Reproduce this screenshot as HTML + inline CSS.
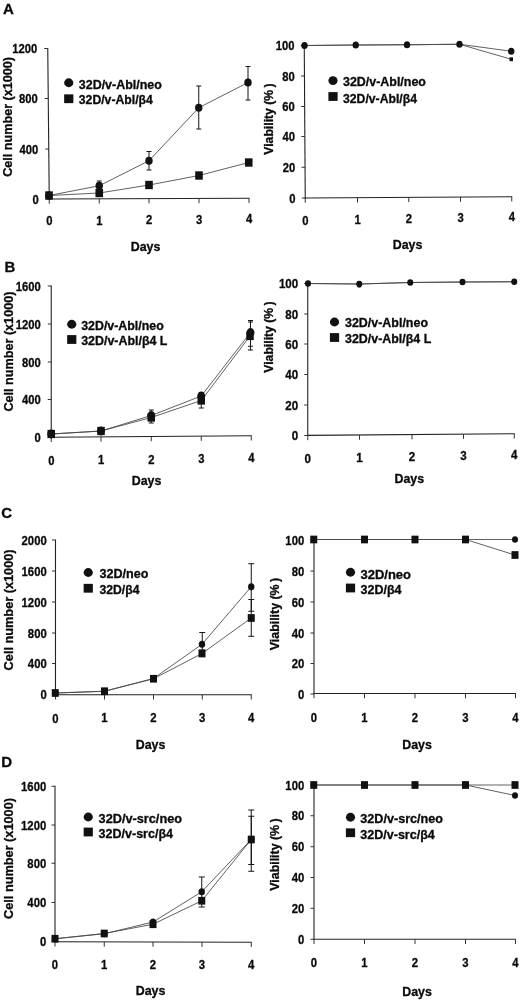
<!DOCTYPE html>
<html><head><meta charset="utf-8"><title>Figure</title>
<style>html,body{margin:0;padding:0;background:#fff}svg{display:block;filter:blur(0.35px)}text{font-family:"Liberation Sans",sans-serif;font-weight:bold;fill:#0a0a0a;stroke:#0a0a0a;stroke-width:0.3px}</style>
</head><body>
<svg width="520" height="1000" viewBox="0 0 520 1000">
<rect width="520" height="1000" fill="#fff"/>
<g fill="#111">
<line x1="47.75" y1="48.0" x2="49.25" y2="199.5" stroke="#222" stroke-width="1.1"/>
<line x1="48.75" y1="199" x2="249.5" y2="198.25" stroke="#222" stroke-width="1.1"/>
<line x1="45.75" y1="199" x2="49.25" y2="199" stroke="#333" stroke-width="1"/>
<text x="38.75" y="203.5" font-size="13" text-anchor="end" textLength="6.25" lengthAdjust="spacingAndGlyphs">0</text>
<line x1="45.25" y1="149" x2="48.75" y2="149" stroke="#333" stroke-width="1"/>
<text x="38.25" y="153.5" font-size="13" text-anchor="end" textLength="18.75" lengthAdjust="spacingAndGlyphs">400</text>
<line x1="44.75" y1="98.5" x2="48.25" y2="98.5" stroke="#333" stroke-width="1"/>
<text x="37.75" y="103.0" font-size="13" text-anchor="end" textLength="18.75" lengthAdjust="spacingAndGlyphs">800</text>
<line x1="44.25" y1="48.5" x2="47.75" y2="48.5" stroke="#333" stroke-width="1"/>
<text x="37.25" y="53.0" font-size="13" text-anchor="end" textLength="25.0" lengthAdjust="spacingAndGlyphs">1200</text>
<line x1="49.25" y1="199.0" x2="49.25" y2="203.75" stroke="#333" stroke-width="1"/>
<text x="49.25" y="225.4" font-size="13" text-anchor="middle" textLength="6.25" lengthAdjust="spacingAndGlyphs">0</text>
<line x1="99.25" y1="198.81226533166458" x2="99.25" y2="203.56226533166458" stroke="#333" stroke-width="1"/>
<text x="99.25" y="224.9" font-size="13" text-anchor="middle" textLength="6.25" lengthAdjust="spacingAndGlyphs">1</text>
<line x1="149" y1="198.62546933667085" x2="149" y2="203.37546933667085" stroke="#333" stroke-width="1"/>
<text x="149" y="224.4" font-size="13" text-anchor="middle" textLength="6.25" lengthAdjust="spacingAndGlyphs">2</text>
<line x1="199" y1="198.43773466833542" x2="199" y2="203.18773466833542" stroke="#333" stroke-width="1"/>
<text x="199" y="223.9" font-size="13" text-anchor="middle" textLength="6.25" lengthAdjust="spacingAndGlyphs">3</text>
<line x1="249" y1="198.25" x2="249" y2="203.0" stroke="#333" stroke-width="1"/>
<text x="249" y="223.4" font-size="13" text-anchor="middle" textLength="6.25" lengthAdjust="spacingAndGlyphs">4</text>
<text x="145.5" y="251" font-size="12.4" text-anchor="middle">Days</text>
<text x="12.4" y="116.9" font-size="12" text-anchor="middle" textLength="119.75" lengthAdjust="spacingAndGlyphs" transform="rotate(-90 12.4 116.9)">Cell number (x1000)</text>
<polyline fill="none" stroke="#444" stroke-width="0.85" points="49,195.5 99.25,185.75 149,160.75 198.75,107.75 248,82.5"/>
<polyline fill="none" stroke="#444" stroke-width="0.85" points="49,195.5 99.25,193 149,185 199,175.5 248.75,162.5"/>
<line x1="149" y1="151.5" x2="149" y2="170" stroke="#151515" stroke-width="1"/>
<line x1="146.5" y1="151.5" x2="151.5" y2="151.5" stroke="#151515" stroke-width="1"/>
<line x1="146.5" y1="170" x2="151.5" y2="170" stroke="#151515" stroke-width="1"/>
<line x1="198.75" y1="86" x2="198.75" y2="129" stroke="#151515" stroke-width="1"/>
<line x1="196.25" y1="86" x2="201.25" y2="86" stroke="#151515" stroke-width="1"/>
<line x1="196.25" y1="129" x2="201.25" y2="129" stroke="#151515" stroke-width="1"/>
<line x1="248" y1="66.5" x2="248" y2="100" stroke="#151515" stroke-width="1"/>
<line x1="245.5" y1="66.5" x2="250.5" y2="66.5" stroke="#151515" stroke-width="1"/>
<line x1="245.5" y1="100" x2="250.5" y2="100" stroke="#151515" stroke-width="1"/>
<line x1="99.25" y1="181" x2="99.25" y2="190" stroke="#151515" stroke-width="1"/>
<line x1="96.75" y1="181" x2="101.75" y2="181" stroke="#151515" stroke-width="1"/>
<line x1="96.75" y1="190" x2="101.75" y2="190" stroke="#151515" stroke-width="1"/>
<ellipse cx="49" cy="195.5" rx="3.7" ry="4.07"/>
<ellipse cx="99.25" cy="185.75" rx="3.7" ry="4.07"/>
<ellipse cx="149" cy="160.75" rx="3.7" ry="4.07"/>
<ellipse cx="198.75" cy="107.75" rx="3.7" ry="4.07"/>
<ellipse cx="248" cy="82.5" rx="3.7" ry="4.07"/>
<rect x="45.2" y="191.32" width="7.6" height="8.36"/>
<rect x="95.45" y="188.82" width="7.6" height="8.36"/>
<rect x="145.2" y="180.82" width="7.6" height="8.36"/>
<rect x="195.2" y="171.32" width="7.6" height="8.36"/>
<rect x="244.95" y="158.32" width="7.6" height="8.36"/>
<ellipse cx="68.75" cy="82.75" rx="4.6" ry="4.4"/>
<text x="78.8" y="88.75" font-size="12" text-anchor="start" textLength="83" lengthAdjust="spacingAndGlyphs">32D/v-Abl/neo</text>
<rect x="64.15" y="94.35" width="9.2" height="8.8"/>
<text x="78.8" y="104.25" font-size="12" text-anchor="start" textLength="74" lengthAdjust="spacingAndGlyphs">32D/v-Abl/β4</text>
<text x="3" y="13.8" font-size="15" text-anchor="start">A</text>
<line x1="304.25" y1="45.0" x2="305.25" y2="198.5" stroke="#222" stroke-width="1.1"/>
<line x1="304.75" y1="198" x2="512.25" y2="196.75" stroke="#222" stroke-width="1.1"/>
<line x1="301.75" y1="198" x2="305.25" y2="198" stroke="#333" stroke-width="1"/>
<text x="295.45" y="202.5" font-size="13" text-anchor="end" textLength="6.25" lengthAdjust="spacingAndGlyphs">0</text>
<line x1="301.55" y1="167.25" x2="305.05" y2="167.25" stroke="#333" stroke-width="1"/>
<text x="295.25" y="171.75" font-size="13" text-anchor="end" textLength="12.5" lengthAdjust="spacingAndGlyphs">20</text>
<line x1="301.35" y1="136.5" x2="304.85" y2="136.5" stroke="#333" stroke-width="1"/>
<text x="295.05" y="141.0" font-size="13" text-anchor="end" textLength="12.5" lengthAdjust="spacingAndGlyphs">40</text>
<line x1="301.15" y1="106.5" x2="304.65" y2="106.5" stroke="#333" stroke-width="1"/>
<text x="294.84999999999997" y="111.0" font-size="13" text-anchor="end" textLength="12.5" lengthAdjust="spacingAndGlyphs">60</text>
<line x1="300.95" y1="76" x2="304.45" y2="76" stroke="#333" stroke-width="1"/>
<text x="294.65" y="80.5" font-size="13" text-anchor="end" textLength="12.5" lengthAdjust="spacingAndGlyphs">80</text>
<line x1="300.75" y1="45.5" x2="304.25" y2="45.5" stroke="#333" stroke-width="1"/>
<text x="294.45" y="50.0" font-size="13" text-anchor="end" textLength="18.75" lengthAdjust="spacingAndGlyphs">100</text>
<line x1="305.25" y1="198.0" x2="305.25" y2="202.75" stroke="#333" stroke-width="1"/>
<text x="305.25" y="224.5" font-size="13" text-anchor="middle" textLength="6.25" lengthAdjust="spacingAndGlyphs">0</text>
<line x1="357.5" y1="197.6837167070218" x2="357.5" y2="202.4337167070218" stroke="#333" stroke-width="1"/>
<text x="357.5" y="223.61" font-size="13" text-anchor="middle" textLength="6.25" lengthAdjust="spacingAndGlyphs">1</text>
<line x1="408.75" y1="197.3734866828087" x2="408.75" y2="202.1234866828087" stroke="#333" stroke-width="1"/>
<text x="408.75" y="222.75" font-size="13" text-anchor="middle" textLength="6.25" lengthAdjust="spacingAndGlyphs">2</text>
<line x1="460.5" y1="197.06023002421307" x2="460.5" y2="201.81023002421307" stroke="#333" stroke-width="1"/>
<text x="460.5" y="221.87" font-size="13" text-anchor="middle" textLength="6.25" lengthAdjust="spacingAndGlyphs">3</text>
<line x1="511.75" y1="196.75" x2="511.75" y2="201.5" stroke="#333" stroke-width="1"/>
<text x="511.75" y="221.0" font-size="13" text-anchor="middle" textLength="6.25" lengthAdjust="spacingAndGlyphs">4</text>
<text x="407.5" y="249" font-size="12.4" text-anchor="middle">Days</text>
<text x="272.6" y="119" font-size="12" text-anchor="middle" textLength="71.4" lengthAdjust="spacingAndGlyphs" transform="rotate(-90 272.6 119)">Viability (%&#8201;)</text>
<polyline fill="none" stroke="#444" stroke-width="0.85" points="304.5,45.5 355.75,45 407,44.75 459.5,44.25 511.25,59.25"/>
<polyline fill="none" stroke="#444" stroke-width="0.85" points="304.5,45.5 355.75,45 407,44.75 459.5,44.25 511.25,51.25"/>
<rect x="302.75" y="43.58" width="3.5" height="3.85"/>
<rect x="354.0" y="43.08" width="3.5" height="3.85"/>
<rect x="405.25" y="42.83" width="3.5" height="3.85"/>
<rect x="457.75" y="42.33" width="3.5" height="3.85"/>
<rect x="509.5" y="57.33" width="3.5" height="3.85"/>
<ellipse cx="304.5" cy="45.5" rx="3.2" ry="3.52"/>
<ellipse cx="355.75" cy="45" rx="3.2" ry="3.52"/>
<ellipse cx="407" cy="44.75" rx="3.2" ry="3.52"/>
<ellipse cx="459.5" cy="44.25" rx="3.2" ry="3.52"/>
<ellipse cx="511.25" cy="51.25" rx="3.2" ry="3.52"/>
<ellipse cx="333" cy="80.6" rx="4.6" ry="4.4"/>
<text x="343" y="86.2" font-size="12" text-anchor="start" textLength="82.9" lengthAdjust="spacingAndGlyphs">32D/v-Abl/neo</text>
<rect x="328.4" y="92.1" width="9.2" height="8.8"/>
<text x="343" y="102.5" font-size="12" text-anchor="start" textLength="74" lengthAdjust="spacingAndGlyphs">32D/v-Abl/β4</text>
<line x1="51.25" y1="285.5" x2="51.25" y2="437.75" stroke="#222" stroke-width="1.1"/>
<line x1="50.75" y1="437.25" x2="251.75" y2="435.75" stroke="#222" stroke-width="1.1"/>
<line x1="47.75" y1="437.5" x2="51.25" y2="437.5" stroke="#333" stroke-width="1"/>
<text x="40.75" y="442.0" font-size="13" text-anchor="end" textLength="6.25" lengthAdjust="spacingAndGlyphs">0</text>
<line x1="47.75" y1="399.5" x2="51.25" y2="399.5" stroke="#333" stroke-width="1"/>
<text x="40.75" y="404.0" font-size="13" text-anchor="end" textLength="18.75" lengthAdjust="spacingAndGlyphs">400</text>
<line x1="47.75" y1="362" x2="51.25" y2="362" stroke="#333" stroke-width="1"/>
<text x="40.75" y="366.5" font-size="13" text-anchor="end" textLength="18.75" lengthAdjust="spacingAndGlyphs">800</text>
<line x1="47.75" y1="324" x2="51.25" y2="324" stroke="#333" stroke-width="1"/>
<text x="40.75" y="328.5" font-size="13" text-anchor="end" textLength="25.0" lengthAdjust="spacingAndGlyphs">1200</text>
<line x1="47.75" y1="286" x2="51.25" y2="286" stroke="#333" stroke-width="1"/>
<text x="40.75" y="290.5" font-size="13" text-anchor="end" textLength="25.0" lengthAdjust="spacingAndGlyphs">1600</text>
<line x1="51.25" y1="437.25" x2="51.25" y2="442.0" stroke="#333" stroke-width="1"/>
<text x="51.25" y="464.8" font-size="13" text-anchor="middle" textLength="6.25" lengthAdjust="spacingAndGlyphs">0</text>
<line x1="101" y1="436.876875" x2="101" y2="441.626875" stroke="#333" stroke-width="1"/>
<text x="101" y="464.18" font-size="13" text-anchor="middle" textLength="6.25" lengthAdjust="spacingAndGlyphs">1</text>
<line x1="151.25" y1="436.5" x2="151.25" y2="441.25" stroke="#333" stroke-width="1"/>
<text x="151.25" y="463.55" font-size="13" text-anchor="middle" textLength="6.25" lengthAdjust="spacingAndGlyphs">2</text>
<line x1="201.25" y1="436.125" x2="201.25" y2="440.875" stroke="#333" stroke-width="1"/>
<text x="201.25" y="462.93" font-size="13" text-anchor="middle" textLength="6.25" lengthAdjust="spacingAndGlyphs">3</text>
<line x1="251.25" y1="435.75" x2="251.25" y2="440.5" stroke="#333" stroke-width="1"/>
<text x="251.25" y="462.3" font-size="13" text-anchor="middle" textLength="6.25" lengthAdjust="spacingAndGlyphs">4</text>
<text x="146.5" y="485" font-size="12.4" text-anchor="middle">Days</text>
<text x="13.3" y="351.6" font-size="12" text-anchor="middle" textLength="120" lengthAdjust="spacingAndGlyphs" transform="rotate(-90 13.3 351.6)">Cell number (x1000)</text>
<polyline fill="none" stroke="#444" stroke-width="0.85" points="51.25,434 101,431 151.25,415.5 201.25,396 250.5,332.5"/>
<polyline fill="none" stroke="#444" stroke-width="0.85" points="51.25,434 101,431 151.25,417.5 201.25,400.5 250,336"/>
<line x1="151.25" y1="410" x2="151.25" y2="423" stroke="#151515" stroke-width="1"/>
<line x1="148.75" y1="410" x2="153.75" y2="410" stroke="#151515" stroke-width="1"/>
<line x1="148.75" y1="423" x2="153.75" y2="423" stroke="#151515" stroke-width="1"/>
<line x1="201.25" y1="392.5" x2="201.25" y2="408" stroke="#151515" stroke-width="1"/>
<line x1="198.75" y1="392.5" x2="203.75" y2="392.5" stroke="#151515" stroke-width="1"/>
<line x1="198.75" y1="408" x2="203.75" y2="408" stroke="#151515" stroke-width="1"/>
<line x1="250.5" y1="320.5" x2="250.5" y2="350" stroke="#151515" stroke-width="1"/>
<line x1="248.0" y1="320.5" x2="253.0" y2="320.5" stroke="#151515" stroke-width="1"/>
<line x1="248.0" y1="350" x2="253.0" y2="350" stroke="#151515" stroke-width="1"/>
<line x1="250.5" y1="322" x2="250.5" y2="346.25" stroke="#151515" stroke-width="1"/>
<line x1="248.0" y1="322" x2="253.0" y2="322" stroke="#151515" stroke-width="1"/>
<line x1="248.0" y1="346.25" x2="253.0" y2="346.25" stroke="#151515" stroke-width="1"/>
<ellipse cx="51.25" cy="434" rx="4" ry="4.4"/>
<ellipse cx="101" cy="431" rx="4" ry="4.4"/>
<ellipse cx="151.25" cy="415.5" rx="4" ry="4.4"/>
<ellipse cx="201.25" cy="396" rx="4" ry="4.4"/>
<ellipse cx="250.5" cy="332.5" rx="4" ry="4.4"/>
<rect x="47.5" y="429.88" width="7.5" height="8.25"/>
<rect x="97.25" y="426.88" width="7.5" height="8.25"/>
<rect x="147.5" y="413.38" width="7.5" height="8.25"/>
<rect x="197.5" y="396.38" width="7.5" height="8.25"/>
<rect x="246.25" y="331.88" width="7.5" height="8.25"/>
<ellipse cx="71.75" cy="324.25" rx="4.6" ry="4.4"/>
<text x="81.2" y="329.5" font-size="12" text-anchor="start" textLength="82.5" lengthAdjust="spacingAndGlyphs">32D/v-Abl/neo</text>
<rect x="67.15" y="335.1" width="9.2" height="8.8"/>
<text x="81.2" y="344.5" font-size="12" text-anchor="start" textLength="86.25" lengthAdjust="spacingAndGlyphs">32D/v-Abl/β4 L</text>
<text x="4.5" y="272" font-size="15" text-anchor="start">B</text>
<line x1="307.75" y1="283.0" x2="307.75" y2="435.9" stroke="#222" stroke-width="1.1"/>
<line x1="307.25" y1="435.4" x2="514.75" y2="433.75" stroke="#222" stroke-width="1.1"/>
<line x1="304.25" y1="435.5" x2="307.75" y2="435.5" stroke="#333" stroke-width="1"/>
<text x="298.25" y="440.0" font-size="13" text-anchor="end" textLength="6.45" lengthAdjust="spacingAndGlyphs">0</text>
<line x1="304.25" y1="405" x2="307.75" y2="405" stroke="#333" stroke-width="1"/>
<text x="298.25" y="409.5" font-size="13" text-anchor="end" textLength="12.9" lengthAdjust="spacingAndGlyphs">20</text>
<line x1="304.25" y1="374.5" x2="307.75" y2="374.5" stroke="#333" stroke-width="1"/>
<text x="298.25" y="379.0" font-size="13" text-anchor="end" textLength="12.9" lengthAdjust="spacingAndGlyphs">40</text>
<line x1="304.25" y1="344" x2="307.75" y2="344" stroke="#333" stroke-width="1"/>
<text x="298.25" y="348.5" font-size="13" text-anchor="end" textLength="12.9" lengthAdjust="spacingAndGlyphs">60</text>
<line x1="304.25" y1="314" x2="307.75" y2="314" stroke="#333" stroke-width="1"/>
<text x="298.25" y="318.5" font-size="13" text-anchor="end" textLength="12.9" lengthAdjust="spacingAndGlyphs">80</text>
<line x1="304.25" y1="283.5" x2="307.75" y2="283.5" stroke="#333" stroke-width="1"/>
<text x="298.25" y="288.0" font-size="13" text-anchor="end" textLength="19.35" lengthAdjust="spacingAndGlyphs">100</text>
<line x1="307.75" y1="435.4" x2="307.75" y2="440.15" stroke="#333" stroke-width="1"/>
<text x="307.75" y="462.6" font-size="13" text-anchor="middle" textLength="6.45" lengthAdjust="spacingAndGlyphs">0</text>
<line x1="359.5" y1="434.9865012106537" x2="359.5" y2="439.7365012106537" stroke="#333" stroke-width="1"/>
<text x="359.5" y="461.75" font-size="13" text-anchor="middle" textLength="6.45" lengthAdjust="spacingAndGlyphs">1</text>
<line x1="412" y1="434.56700968523" x2="412" y2="439.31700968523" stroke="#333" stroke-width="1"/>
<text x="412" y="460.88" font-size="13" text-anchor="middle" textLength="6.45" lengthAdjust="spacingAndGlyphs">2</text>
<line x1="463.5" y1="434.15550847457627" x2="463.5" y2="438.90550847457627" stroke="#333" stroke-width="1"/>
<text x="463.5" y="460.04" font-size="13" text-anchor="middle" textLength="6.45" lengthAdjust="spacingAndGlyphs">3</text>
<line x1="514.25" y1="433.75" x2="514.25" y2="438.5" stroke="#333" stroke-width="1"/>
<text x="514.25" y="459.2" font-size="13" text-anchor="middle" textLength="6.45" lengthAdjust="spacingAndGlyphs">4</text>
<text x="409.25" y="482.75" font-size="12.4" text-anchor="middle">Days</text>
<text x="273" y="337" font-size="12" text-anchor="middle" textLength="71.4" lengthAdjust="spacingAndGlyphs" transform="rotate(-90 273 337)">Viability (%&#8201;)</text>
<polyline fill="none" stroke="#444" stroke-width="0.85" points="308,283.5 359.25,284 410.25,282.5 462.5,282 514.25,281.75"/>
<polyline fill="none" stroke="#444" stroke-width="0.85" points="308,283.5 359.25,284 410.25,282.5 462.5,282 514.25,281.75"/>
<line x1="359.25" y1="281" x2="359.25" y2="287.5" stroke="#111" stroke-width="3"/>
<rect x="306.25" y="281.57" width="3.5" height="3.85"/>
<rect x="357.5" y="282.07" width="3.5" height="3.85"/>
<rect x="408.5" y="280.57" width="3.5" height="3.85"/>
<rect x="460.75" y="280.07" width="3.5" height="3.85"/>
<rect x="512.5" y="279.82" width="3.5" height="3.85"/>
<ellipse cx="308" cy="283.5" rx="3" ry="3.3"/>
<ellipse cx="359.25" cy="284" rx="3" ry="3.3"/>
<ellipse cx="410.25" cy="282.5" rx="3" ry="3.3"/>
<ellipse cx="462.5" cy="282" rx="3" ry="3.3"/>
<ellipse cx="514.25" cy="281.75" rx="3" ry="3.3"/>
<ellipse cx="334.5" cy="322" rx="4.6" ry="4.4"/>
<text x="345" y="327.25" font-size="12" text-anchor="start" textLength="83" lengthAdjust="spacingAndGlyphs">32D/v-Abl/neo</text>
<rect x="329.9" y="333.1" width="9.2" height="8.8"/>
<text x="345" y="342.5" font-size="12" text-anchor="start" textLength="86.25" lengthAdjust="spacingAndGlyphs">32D/v-Abl/β4 L</text>
<line x1="55.5" y1="539.5" x2="55.5" y2="695.25" stroke="#222" stroke-width="1.1"/>
<line x1="55.0" y1="694.75" x2="251.75" y2="694.75" stroke="#222" stroke-width="1.1"/>
<line x1="52.0" y1="694.5" x2="55.5" y2="694.5" stroke="#333" stroke-width="1"/>
<text x="46.75" y="699.0" font-size="13.4" text-anchor="end" textLength="6.3" lengthAdjust="spacingAndGlyphs">0</text>
<line x1="52.0" y1="663.5" x2="55.5" y2="663.5" stroke="#333" stroke-width="1"/>
<text x="46.75" y="668.0" font-size="13.4" text-anchor="end" textLength="18.9" lengthAdjust="spacingAndGlyphs">400</text>
<line x1="52.0" y1="633" x2="55.5" y2="633" stroke="#333" stroke-width="1"/>
<text x="46.75" y="637.5" font-size="13.4" text-anchor="end" textLength="18.9" lengthAdjust="spacingAndGlyphs">800</text>
<line x1="52.0" y1="602" x2="55.5" y2="602" stroke="#333" stroke-width="1"/>
<text x="46.75" y="606.5" font-size="13.4" text-anchor="end" textLength="25.2" lengthAdjust="spacingAndGlyphs">1200</text>
<line x1="52.0" y1="571" x2="55.5" y2="571" stroke="#333" stroke-width="1"/>
<text x="46.75" y="575.5" font-size="13.4" text-anchor="end" textLength="25.2" lengthAdjust="spacingAndGlyphs">1600</text>
<line x1="52.0" y1="540" x2="55.5" y2="540" stroke="#333" stroke-width="1"/>
<text x="46.75" y="544.5" font-size="13.4" text-anchor="end" textLength="25.2" lengthAdjust="spacingAndGlyphs">2000</text>
<line x1="55.5" y1="694.75" x2="55.5" y2="699.5" stroke="#333" stroke-width="1"/>
<text x="55.5" y="722.5" font-size="13.4" text-anchor="middle" textLength="6.3" lengthAdjust="spacingAndGlyphs">0</text>
<line x1="104.5" y1="694.75" x2="104.5" y2="699.5" stroke="#333" stroke-width="1"/>
<text x="104.5" y="722.37" font-size="13.4" text-anchor="middle" textLength="6.3" lengthAdjust="spacingAndGlyphs">1</text>
<line x1="153.5" y1="694.75" x2="153.5" y2="699.5" stroke="#333" stroke-width="1"/>
<text x="153.5" y="722.25" font-size="13.4" text-anchor="middle" textLength="6.3" lengthAdjust="spacingAndGlyphs">2</text>
<line x1="202.25" y1="694.75" x2="202.25" y2="699.5" stroke="#333" stroke-width="1"/>
<text x="202.25" y="722.13" font-size="13.4" text-anchor="middle" textLength="6.3" lengthAdjust="spacingAndGlyphs">3</text>
<line x1="251.25" y1="694.75" x2="251.25" y2="699.5" stroke="#333" stroke-width="1"/>
<text x="251.25" y="722.0" font-size="13.4" text-anchor="middle" textLength="6.3" lengthAdjust="spacingAndGlyphs">4</text>
<text x="150.5" y="749.25" font-size="12.4" text-anchor="middle">Days</text>
<text x="13" y="609.9" font-size="12" text-anchor="middle" textLength="121" lengthAdjust="spacingAndGlyphs" transform="rotate(-90 13 609.9)">Cell number (x1000)</text>
<polyline fill="none" stroke="#444" stroke-width="0.85" points="55.25,693 104.5,691.25 153.5,678.5 202,644.25 251.25,586.75"/>
<polyline fill="none" stroke="#444" stroke-width="0.85" points="55.25,693 104.5,691.25 153.5,678.75 202,653.5 251.25,618"/>
<line x1="202.25" y1="632.5" x2="202.25" y2="650" stroke="#151515" stroke-width="1"/>
<line x1="199.25" y1="632.5" x2="205.25" y2="632.5" stroke="#151515" stroke-width="1"/>
<line x1="199.25" y1="650" x2="205.25" y2="650" stroke="#151515" stroke-width="1"/>
<line x1="251.25" y1="563.75" x2="251.25" y2="611.25" stroke="#151515" stroke-width="1"/>
<line x1="248.25" y1="563.75" x2="254.25" y2="563.75" stroke="#151515" stroke-width="1"/>
<line x1="248.25" y1="611.25" x2="254.25" y2="611.25" stroke="#151515" stroke-width="1"/>
<line x1="251.25" y1="599.5" x2="251.25" y2="636.25" stroke="#151515" stroke-width="1"/>
<line x1="248.25" y1="599.5" x2="254.25" y2="599.5" stroke="#151515" stroke-width="1"/>
<line x1="248.25" y1="636.25" x2="254.25" y2="636.25" stroke="#151515" stroke-width="1"/>
<ellipse cx="55.25" cy="693" rx="3.2" ry="3.52"/>
<ellipse cx="104.5" cy="691.25" rx="3.2" ry="3.52"/>
<ellipse cx="153.5" cy="678.5" rx="3.2" ry="3.52"/>
<ellipse cx="202" cy="644.25" rx="3.2" ry="3.52"/>
<ellipse cx="251.25" cy="586.75" rx="3.2" ry="3.52"/>
<rect x="51.75" y="689.15" width="7" height="7.7"/>
<rect x="101.0" y="687.4" width="7" height="7.7"/>
<rect x="150.0" y="674.9" width="7" height="7.7"/>
<rect x="198.5" y="649.65" width="7" height="7.7"/>
<rect x="247.75" y="614.15" width="7" height="7.7"/>
<ellipse cx="88.25" cy="572.5" rx="4.6" ry="4.4"/>
<text x="99.5" y="578.4" font-size="12" text-anchor="start" textLength="49" lengthAdjust="spacingAndGlyphs">32D/neo</text>
<rect x="83.65" y="583.85" width="9.2" height="8.8"/>
<text x="99.5" y="593.75" font-size="12" text-anchor="start" textLength="40" lengthAdjust="spacingAndGlyphs">32D/β4</text>
<text x="1.2" y="518" font-size="15" text-anchor="start">C</text>
<line x1="314" y1="539.5" x2="314" y2="694.0" stroke="#222" stroke-width="1.1"/>
<line x1="313.5" y1="693.5" x2="516.0" y2="693.5" stroke="#222" stroke-width="1.1"/>
<line x1="310.5" y1="694" x2="314.0" y2="694" stroke="#333" stroke-width="1"/>
<text x="304.25" y="698.5" font-size="13.4" text-anchor="end" textLength="6.3" lengthAdjust="spacingAndGlyphs">0</text>
<line x1="310.5" y1="663.5" x2="314.0" y2="663.5" stroke="#333" stroke-width="1"/>
<text x="304.25" y="668.0" font-size="13.4" text-anchor="end" textLength="12.6" lengthAdjust="spacingAndGlyphs">20</text>
<line x1="310.5" y1="633" x2="314.0" y2="633" stroke="#333" stroke-width="1"/>
<text x="304.25" y="637.5" font-size="13.4" text-anchor="end" textLength="12.6" lengthAdjust="spacingAndGlyphs">40</text>
<line x1="310.5" y1="602" x2="314.0" y2="602" stroke="#333" stroke-width="1"/>
<text x="304.25" y="606.5" font-size="13.4" text-anchor="end" textLength="12.6" lengthAdjust="spacingAndGlyphs">60</text>
<line x1="310.5" y1="571" x2="314.0" y2="571" stroke="#333" stroke-width="1"/>
<text x="304.25" y="575.5" font-size="13.4" text-anchor="end" textLength="12.6" lengthAdjust="spacingAndGlyphs">80</text>
<line x1="310.5" y1="540" x2="314.0" y2="540" stroke="#333" stroke-width="1"/>
<text x="304.25" y="544.5" font-size="13.4" text-anchor="end" textLength="18.9" lengthAdjust="spacingAndGlyphs">100</text>
<line x1="314" y1="693.5" x2="314" y2="698.25" stroke="#333" stroke-width="1"/>
<text x="314" y="722.0" font-size="13.4" text-anchor="middle" textLength="6.3" lengthAdjust="spacingAndGlyphs">0</text>
<line x1="364.5" y1="693.5" x2="364.5" y2="698.25" stroke="#333" stroke-width="1"/>
<text x="364.5" y="722.0" font-size="13.4" text-anchor="middle" textLength="6.3" lengthAdjust="spacingAndGlyphs">1</text>
<line x1="415" y1="693.5" x2="415" y2="698.25" stroke="#333" stroke-width="1"/>
<text x="415" y="722.0" font-size="13.4" text-anchor="middle" textLength="6.3" lengthAdjust="spacingAndGlyphs">2</text>
<line x1="465.5" y1="693.5" x2="465.5" y2="698.25" stroke="#333" stroke-width="1"/>
<text x="465.5" y="722.0" font-size="13.4" text-anchor="middle" textLength="6.3" lengthAdjust="spacingAndGlyphs">3</text>
<line x1="515.5" y1="693.5" x2="515.5" y2="698.25" stroke="#333" stroke-width="1"/>
<text x="515.5" y="722.0" font-size="13.4" text-anchor="middle" textLength="6.3" lengthAdjust="spacingAndGlyphs">4</text>
<text x="417" y="749.25" font-size="12.4" text-anchor="middle">Days</text>
<text x="279" y="614" font-size="12" text-anchor="middle" textLength="72.5" lengthAdjust="spacingAndGlyphs" transform="rotate(-90 279 614)">Viability (%&#8201;)</text>
<polyline fill="none" stroke="#444" stroke-width="0.85" points="313.75,539.5 364.5,539.5 415,539.5 465.5,539.5 515,539.5"/>
<polyline fill="none" stroke="#444" stroke-width="0.85" points="313.75,539.5 364.5,539.5 415,539.5 465.5,539.5 515,555"/>
<ellipse cx="313.75" cy="539.5" rx="3" ry="3.3"/>
<ellipse cx="364.5" cy="539.5" rx="3" ry="3.3"/>
<ellipse cx="415" cy="539.5" rx="3" ry="3.3"/>
<ellipse cx="465.5" cy="539.5" rx="3" ry="3.3"/>
<ellipse cx="515" cy="539.5" rx="3" ry="3.3"/>
<rect x="310.25" y="535.65" width="7" height="7.7"/>
<rect x="361.0" y="535.65" width="7" height="7.7"/>
<rect x="411.5" y="535.65" width="7" height="7.7"/>
<rect x="462.0" y="535.65" width="7" height="7.7"/>
<rect x="511.5" y="551.15" width="7" height="7.7"/>
<ellipse cx="350.5" cy="572.25" rx="4.6" ry="4.4"/>
<text x="360.5" y="578.5" font-size="12" text-anchor="start" textLength="50.5" lengthAdjust="spacingAndGlyphs">32D/neo</text>
<rect x="345.9" y="583.6" width="9.2" height="8.8"/>
<text x="360.5" y="594.25" font-size="12" text-anchor="start" textLength="41" lengthAdjust="spacingAndGlyphs">32D/β4</text>
<line x1="55" y1="785.75" x2="55" y2="942.25" stroke="#222" stroke-width="1.1"/>
<line x1="54.5" y1="941.75" x2="251.75" y2="942.25" stroke="#222" stroke-width="1.1"/>
<line x1="51.5" y1="941.25" x2="55.0" y2="941.25" stroke="#333" stroke-width="1"/>
<text x="46.25" y="945.75" font-size="13.4" text-anchor="end" textLength="6.3" lengthAdjust="spacingAndGlyphs">0</text>
<line x1="51.5" y1="902.5" x2="55.0" y2="902.5" stroke="#333" stroke-width="1"/>
<text x="46.25" y="907.0" font-size="13.4" text-anchor="end" textLength="18.9" lengthAdjust="spacingAndGlyphs">400</text>
<line x1="51.5" y1="863.25" x2="55.0" y2="863.25" stroke="#333" stroke-width="1"/>
<text x="46.25" y="867.75" font-size="13.4" text-anchor="end" textLength="18.9" lengthAdjust="spacingAndGlyphs">800</text>
<line x1="51.5" y1="825" x2="55.0" y2="825" stroke="#333" stroke-width="1"/>
<text x="46.25" y="829.5" font-size="13.4" text-anchor="end" textLength="25.2" lengthAdjust="spacingAndGlyphs">1200</text>
<line x1="51.5" y1="786.25" x2="55.0" y2="786.25" stroke="#333" stroke-width="1"/>
<text x="46.25" y="790.75" font-size="13.4" text-anchor="end" textLength="25.2" lengthAdjust="spacingAndGlyphs">1600</text>
<line x1="55" y1="941.75" x2="55" y2="946.5" stroke="#333" stroke-width="1"/>
<text x="55" y="969.0" font-size="13.4" text-anchor="middle" textLength="6.3" lengthAdjust="spacingAndGlyphs">0</text>
<line x1="104.25" y1="941.8754777070063" x2="104.25" y2="946.6254777070063" stroke="#333" stroke-width="1"/>
<text x="104.25" y="969.0" font-size="13.4" text-anchor="middle" textLength="6.3" lengthAdjust="spacingAndGlyphs">1</text>
<line x1="153" y1="941.9996815286624" x2="153" y2="946.7496815286624" stroke="#333" stroke-width="1"/>
<text x="153" y="969.0" font-size="13.4" text-anchor="middle" textLength="6.3" lengthAdjust="spacingAndGlyphs">2</text>
<line x1="202" y1="942.1245222929937" x2="202" y2="946.8745222929937" stroke="#333" stroke-width="1"/>
<text x="202" y="969.0" font-size="13.4" text-anchor="middle" textLength="6.3" lengthAdjust="spacingAndGlyphs">3</text>
<line x1="251.25" y1="942.25" x2="251.25" y2="947.0" stroke="#333" stroke-width="1"/>
<text x="251.25" y="969.0" font-size="13.4" text-anchor="middle" textLength="6.3" lengthAdjust="spacingAndGlyphs">4</text>
<text x="150.5" y="995" font-size="12.4" text-anchor="middle">Days</text>
<text x="13" y="858.5" font-size="12" text-anchor="middle" textLength="121" lengthAdjust="spacingAndGlyphs" transform="rotate(-90 13 858.5)">Cell number (x1000)</text>
<polyline fill="none" stroke="#444" stroke-width="0.85" points="55,938.75 104.25,933.75 153,922 201.75,891.75 251.25,839.5"/>
<polyline fill="none" stroke="#444" stroke-width="0.85" points="55,938.75 104.25,933.5 153,924.25 201.75,900.75 251.25,839.5"/>
<line x1="201.75" y1="877" x2="201.75" y2="907" stroke="#151515" stroke-width="1"/>
<line x1="198.75" y1="877" x2="204.75" y2="877" stroke="#151515" stroke-width="1"/>
<line x1="198.75" y1="907" x2="204.75" y2="907" stroke="#151515" stroke-width="1"/>
<line x1="251.25" y1="810" x2="251.25" y2="871.25" stroke="#151515" stroke-width="1"/>
<line x1="248.25" y1="810" x2="254.25" y2="810" stroke="#151515" stroke-width="1"/>
<line x1="248.25" y1="871.25" x2="254.25" y2="871.25" stroke="#151515" stroke-width="1"/>
<line x1="251.25" y1="816.25" x2="251.25" y2="864.5" stroke="#151515" stroke-width="1"/>
<line x1="248.25" y1="816.25" x2="254.25" y2="816.25" stroke="#151515" stroke-width="1"/>
<line x1="248.25" y1="864.5" x2="254.25" y2="864.5" stroke="#151515" stroke-width="1"/>
<ellipse cx="55" cy="938.75" rx="3.2" ry="3.52"/>
<ellipse cx="104.25" cy="933.75" rx="3.2" ry="3.52"/>
<ellipse cx="153" cy="922" rx="3.2" ry="3.52"/>
<ellipse cx="201.75" cy="891.75" rx="3.2" ry="3.52"/>
<ellipse cx="251.25" cy="839.5" rx="3.2" ry="3.52"/>
<rect x="51.5" y="934.9" width="7" height="7.7"/>
<rect x="100.75" y="929.65" width="7" height="7.7"/>
<rect x="149.5" y="920.4" width="7" height="7.7"/>
<rect x="198.25" y="896.9" width="7" height="7.7"/>
<rect x="247.75" y="835.65" width="7" height="7.7"/>
<ellipse cx="88.25" cy="817" rx="4.6" ry="4.4"/>
<text x="98.6" y="822.75" font-size="12" text-anchor="start" textLength="83.4" lengthAdjust="spacingAndGlyphs">32D/v-src/neo</text>
<rect x="83.65" y="827.6" width="9.2" height="8.8"/>
<text x="98.6" y="838" font-size="12" text-anchor="start" textLength="74.4" lengthAdjust="spacingAndGlyphs">32D/v-src/β4</text>
<text x="1.2" y="767" font-size="15" text-anchor="start">D</text>
<line x1="314" y1="784.5" x2="314" y2="939.75" stroke="#222" stroke-width="1.1"/>
<line x1="313.5" y1="939.25" x2="516.0" y2="939.25" stroke="#222" stroke-width="1.1"/>
<line x1="310.5" y1="939.25" x2="314.0" y2="939.25" stroke="#333" stroke-width="1"/>
<text x="304.25" y="943.75" font-size="13.4" text-anchor="end" textLength="6.3" lengthAdjust="spacingAndGlyphs">0</text>
<line x1="310.5" y1="908.25" x2="314.0" y2="908.25" stroke="#333" stroke-width="1"/>
<text x="304.25" y="912.75" font-size="13.4" text-anchor="end" textLength="12.6" lengthAdjust="spacingAndGlyphs">20</text>
<line x1="310.5" y1="877.5" x2="314.0" y2="877.5" stroke="#333" stroke-width="1"/>
<text x="304.25" y="882.0" font-size="13.4" text-anchor="end" textLength="12.6" lengthAdjust="spacingAndGlyphs">40</text>
<line x1="310.5" y1="846.75" x2="314.0" y2="846.75" stroke="#333" stroke-width="1"/>
<text x="304.25" y="851.25" font-size="13.4" text-anchor="end" textLength="12.6" lengthAdjust="spacingAndGlyphs">60</text>
<line x1="310.5" y1="815.75" x2="314.0" y2="815.75" stroke="#333" stroke-width="1"/>
<text x="304.25" y="820.25" font-size="13.4" text-anchor="end" textLength="12.6" lengthAdjust="spacingAndGlyphs">80</text>
<line x1="310.5" y1="785" x2="314.0" y2="785" stroke="#333" stroke-width="1"/>
<text x="304.25" y="789.5" font-size="13.4" text-anchor="end" textLength="18.9" lengthAdjust="spacingAndGlyphs">100</text>
<line x1="314" y1="939.25" x2="314" y2="944.0" stroke="#333" stroke-width="1"/>
<text x="314" y="967.25" font-size="13.4" text-anchor="middle" textLength="6.3" lengthAdjust="spacingAndGlyphs">0</text>
<line x1="364.5" y1="939.25" x2="364.5" y2="944.0" stroke="#333" stroke-width="1"/>
<text x="364.5" y="967.25" font-size="13.4" text-anchor="middle" textLength="6.3" lengthAdjust="spacingAndGlyphs">1</text>
<line x1="415" y1="939.25" x2="415" y2="944.0" stroke="#333" stroke-width="1"/>
<text x="415" y="967.25" font-size="13.4" text-anchor="middle" textLength="6.3" lengthAdjust="spacingAndGlyphs">2</text>
<line x1="465.5" y1="939.25" x2="465.5" y2="944.0" stroke="#333" stroke-width="1"/>
<text x="465.5" y="967.25" font-size="13.4" text-anchor="middle" textLength="6.3" lengthAdjust="spacingAndGlyphs">3</text>
<line x1="515.5" y1="939.25" x2="515.5" y2="944.0" stroke="#333" stroke-width="1"/>
<text x="515.5" y="967.25" font-size="13.4" text-anchor="middle" textLength="6.3" lengthAdjust="spacingAndGlyphs">4</text>
<text x="417" y="995.75" font-size="12.4" text-anchor="middle">Days</text>
<text x="279" y="854.5" font-size="12" text-anchor="middle" textLength="72.5" lengthAdjust="spacingAndGlyphs" transform="rotate(-90 279 854.5)">Viability (%&#8201;)</text>
<polyline fill="none" stroke="#444" stroke-width="0.85" points="313.75,785 364.5,785 415,785 465.5,785 515,795.5"/>
<polyline fill="none" stroke="#444" stroke-width="0.85" points="313.75,785 364.5,785 415,785 465.5,785 515,785"/>
<ellipse cx="313.75" cy="785" rx="3" ry="3.3"/>
<ellipse cx="364.5" cy="785" rx="3" ry="3.3"/>
<ellipse cx="415" cy="785" rx="3" ry="3.3"/>
<ellipse cx="465.5" cy="785" rx="3" ry="3.3"/>
<ellipse cx="515" cy="795.5" rx="3" ry="3.3"/>
<rect x="310.25" y="781.15" width="7" height="7.7"/>
<rect x="361.0" y="781.15" width="7" height="7.7"/>
<rect x="411.5" y="781.15" width="7" height="7.7"/>
<rect x="462.0" y="781.15" width="7" height="7.7"/>
<rect x="511.5" y="781.15" width="7" height="7.7"/>
<ellipse cx="350.5" cy="817.25" rx="4.6" ry="4.4"/>
<text x="360.3" y="823.2" font-size="12" text-anchor="start" textLength="82.75" lengthAdjust="spacingAndGlyphs">32D/v-src/neo</text>
<rect x="345.9" y="828.35" width="9.2" height="8.8"/>
<text x="360.3" y="838.5" font-size="12" text-anchor="start" textLength="74.5" lengthAdjust="spacingAndGlyphs">32D/v-src/β4</text>
</g>
</svg>
</body></html>
